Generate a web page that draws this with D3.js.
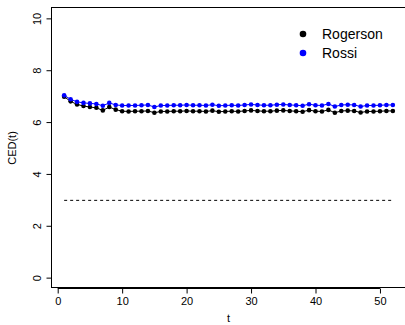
<!DOCTYPE html>
<html>
<head>
<meta charset="utf-8">
<script src="https://cdn.jsdelivr.net/npm/d3@7"></script>
<style>
  body { margin: 0; background: #fff; }
  svg { display: block; font-family: "Liberation Sans", Arial, sans-serif; }
</style>
</head>
<body>
<script>
// data
const t = d3.range(1, 53);
const rogerson = [6.98,6.80,6.68,6.62,6.58,6.55,6.45,6.58,6.48,6.42,6.41,6.42,6.42,6.43,6.36,6.41,6.41,6.42,6.42,6.43,6.42,6.42,6.41,6.44,6.40,6.41,6.42,6.41,6.43,6.45,6.43,6.42,6.42,6.44,6.45,6.43,6.42,6.40,6.46,6.42,6.41,6.47,6.36,6.43,6.44,6.43,6.37,6.41,6.41,6.42,6.43,6.43];
const rossi = [7.03,6.88,6.78,6.74,6.72,6.70,6.63,6.74,6.66,6.64,6.64,6.64,6.65,6.66,6.58,6.64,6.64,6.65,6.65,6.66,6.65,6.65,6.64,6.67,6.63,6.64,6.65,6.64,6.66,6.68,6.66,6.65,6.65,6.67,6.68,6.66,6.65,6.63,6.69,6.65,6.64,6.70,6.60,6.66,6.67,6.66,6.60,6.64,6.64,6.65,6.66,6.66];
const xTicks = [0, 10, 20, 30, 40, 50];
const yTicks = [0, 2, 4, 6, 8, 10];
const threshold = 3;
const seriesNames = ['Rogerson', 'Rossi'];
const seriesColors = ['#000000', '#0000ff'];

const W = 405, H = 325;
const L = 51, T = 8, R = 406, B = 288;

const svg = d3.select('body').append('svg')
  .attr('width', W).attr('height', H);

// R style: 4% padding around data range
const x = d3.scaleLinear().domain([1 - 51 * 0.04, 52 + 51 * 0.04]).range([L, R]);
const y = d3.scaleLinear().domain([-0.4, 10.4]).range([B, T]);

// box
svg.append('rect')
  .attr('x', L + 0.5).attr('y', T - 0.5)
  .attr('width', R - L).attr('height', B - T)
  .attr('fill', 'none').attr('stroke', '#000').attr('stroke-width', 1);

// x axis
const xAxis = svg.append('g')
  .attr('transform', 'translate(0,' + (B + 0.5) + ')')
  .call(d3.axisBottom(x).tickValues(xTicks).tickSize(5).tickPadding(4).tickSizeOuter(0));
xAxis.select('.domain').attr('d', 'M' + x(0) + ',0H' + x(50));
xAxis.selectAll('text').attr('font-size', 11).attr('font-family', 'Liberation Sans, Arial, sans-serif').attr('fill', '#000');

// y axis
const yAxis = svg.append('g')
  .attr('transform', 'translate(' + (L + 0.5) + ',0)')
  .call(d3.axisLeft(y).tickValues(yTicks).tickSize(5).tickSizeOuter(0));
yAxis.select('.domain').attr('d', 'M0,' + y(0) + 'V' + y(10));
yAxis.selectAll('.tick text')
  .attr('x', 0).attr('dy', 0)
  .attr('transform', 'translate(-15,0) rotate(-90)')
  .attr('text-anchor', 'middle')
  .attr('dominant-baseline', 'central')
  .attr('font-size', 11).attr('font-family', 'Liberation Sans, Arial, sans-serif').attr('fill', '#000');

// axis titles
svg.append('text')
  .attr('x', (L + R) / 2).attr('y', 322)
  .attr('text-anchor', 'middle').attr('font-size', 11).text('t');
svg.append('text')
  .attr('transform', 'translate(16,' + ((T + B) / 2) + ') rotate(-90)')
  .attr('text-anchor', 'middle').attr('font-size', 11).text('CED(t)');

// threshold line
svg.append('line')
  .attr('x1', x(1)).attr('x2', x(52))
  .attr('y1', y(threshold) + 0.5).attr('y2', y(threshold) + 0.5)
  .attr('stroke', '#000').attr('stroke-width', 1)
  .attr('stroke-dasharray', '3,3');

// series
const line = d3.line().x((d, i) => x(t[i])).y(d => y(d));
[rogerson, rossi].forEach(function (vals, k) {
  svg.append('path')
    .attr('d', line(vals))
    .attr('fill', 'none')
    .attr('stroke', seriesColors[k])
    .attr('stroke-width', 1);
  svg.append('g').selectAll('circle')
    .data(vals)
    .enter()
    .append('circle')
    .attr('cx', (d, i) => x(t[i]))
    .attr('cy', d => y(d))
    .attr('r', 2.3)
    .attr('fill', seriesColors[k]);
});

// legend
const legend = svg.append('g');
seriesNames.forEach(function (name, k) {
  legend.append('circle')
    .attr('cx', 303).attr('cy', 34 + k * 19)
    .attr('r', 3.3).attr('fill', seriesColors[k]);
  legend.append('text')
    .attr('x', 322).attr('y', 34 + k * 19)
    .attr('dominant-baseline', 'central')
    .attr('font-size', 14).text(name);
});
</script>
</body>
</html>
